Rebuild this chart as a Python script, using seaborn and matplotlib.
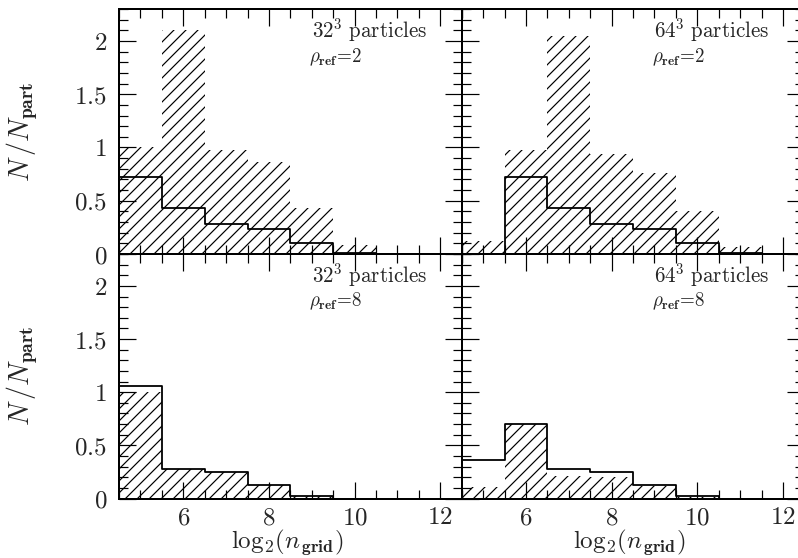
import numpy as np
import pandas as pd
import matplotlib
matplotlib.use("Agg")
import matplotlib.pyplot as plt
from matplotlib.ticker import MultipleLocator, FuncFormatter
import seaborn as sns

# ---- data ----
bin_centers = [5, 6, 7, 8, 9, 10, 11, 12]
bin_edges = [4.5, 5.5, 6.5, 7.5, 8.5, 9.5, 10.5, 11.5, 12.5]

step_32_r2 = [0.72, 0.43, 0.28, 0.235, 0.10, 0.01, 0.0, 0.0]
hatch_32_r2 = [1.00, 2.10, 0.98, 0.86, 0.43, 0.08, 0.0, 0.0]
step_64_r2 = [0.0, 0.72, 0.43, 0.285, 0.235, 0.10, 0.01, 0.0]
hatch_64_r2 = [0.12, 0.98, 2.05, 0.94, 0.76, 0.40, 0.07, 0.0]
step_32_r8 = [1.06, 0.28, 0.25, 0.13, 0.02, 0.0, 0.0, 0.0]
hatch_32_r8 = [1.00, 0.28, 0.25, 0.13, 0.02, 0.0, 0.0, 0.0]
step_64_r8 = [0.36, 0.70, 0.28, 0.25, 0.13, 0.02, 0.0, 0.0]
hatch_64_r8 = [0.11, 0.70, 0.21, 0.20, 0.12, 0.01, 0.0, 0.0]

panel_particles = ["32", "64", "32", "64"]
panel_rho = ["2", "2", "8", "8"]

# ---- style ----
sns.set_style("ticks")
plt.rcParams["mathtext.fontset"] = "cm"
plt.rcParams["font.family"] = ["DejaVu Serif"]
plt.rcParams["hatch.linewidth"] = 0.6
plt.rcParams["axes.linewidth"] = 1.0

DPI = 144
fig = plt.figure(figsize=(798 / DPI, 558 / DPI), dpi=DPI)

W, H = 798.0, 558.0
x_left = 119.0
x_mid = 461.7
pw = x_mid - x_left
top_y0, mid_y, bot_y1 = 9.0, 254.0, 498.5

positions = [
    [x_left / W, 1 - mid_y / H, pw / W, (mid_y - top_y0) / H],
    [x_mid / W, 1 - mid_y / H, pw / W, (mid_y - top_y0) / H],
    [x_left / W, 1 - bot_y1 / H, pw / W, (bot_y1 - mid_y) / H],
    [x_mid / W, 1 - bot_y1 / H, pw / W, (bot_y1 - mid_y) / H],
]
steps = [step_32_r2, step_64_r2, step_32_r8, step_64_r8]
hatches = [hatch_32_r2, hatch_64_r2, hatch_32_r8, hatch_64_r8]

fmt = FuncFormatter(lambda v, p: f"${v:g}$")

for i, pos in enumerate(positions):
    ax = fig.add_axes(pos)
    df = pd.DataFrame({"x": bin_centers, "hatch": hatches[i], "step": steps[i]})
    sns.histplot(data=df, x="x", weights="hatch", bins=bin_edges, element="bars",
                 fill=True, facecolor="none", edgecolor="black", linewidth=0,
                 hatch="////", ax=ax)
    sns.histplot(data=df, x="x", weights="step", bins=bin_edges, element="step",
                 fill=False, color="black", linewidth=0.9, ax=ax)
    ax.set_xlim(4.5, 12.5)
    ax.set_ylim(0, 2.3)
    ax.xaxis.set_major_locator(MultipleLocator(2))
    ax.xaxis.set_minor_locator(MultipleLocator(0.5))
    ax.yaxis.set_major_locator(MultipleLocator(0.5))
    ax.yaxis.set_minor_locator(MultipleLocator(0.1))
    ax.tick_params(which="both", direction="in", top=True, right=True,
                   bottom=True, left=True, width=0.6, color="black")
    ax.tick_params(which="major", length=8.5)
    ax.tick_params(which="minor", length=4.5)
    ax.tick_params(axis="y", labelsize=12.5, pad=6)
    ax.tick_params(axis="x", labelsize=12.5, pad=4)
    for s in ax.spines.values():
        s.set_linewidth(1.0)
        s.set_color("black")
    ax.xaxis.set_major_formatter(fmt)
    ax.yaxis.set_major_formatter(fmt)
    if i in (0, 2):
        ax.set_ylabel(r"$N\,/N_{\mathbf{part}}$", fontsize=14, va="center")
        ax.yaxis.set_label_coords(-0.283, 0.5)
    else:
        ax.set_ylabel("")
        ax.tick_params(axis="y", labelleft=False)
    if i in (2, 3):
        ax.set_xlabel(r"$\mathrm{log}_2(n_{\,\mathbf{grid}})$", fontsize=12.5, va="center")
        ax.xaxis.set_label_coords(0.49, -0.18)
    else:
        ax.set_xlabel("")
        ax.tick_params(axis="x", labelbottom=False)
    ax.text(0.562, 0.912, r"$%s^{\mathbf{3}}\ \mathrm{particles}$" % panel_particles[i],
            transform=ax.transAxes, fontsize=10.5, ha="left", va="center")
    ax.text(0.555, 0.805, r"$\rho_{\mathbf{ref}}\!=\!%s$" % panel_rho[i],
            transform=ax.transAxes, fontsize=9.5, ha="left", va="center")
    ax.set_facecolor("none")

fig.savefig("out.png", dpi=DPI, facecolor="white")
